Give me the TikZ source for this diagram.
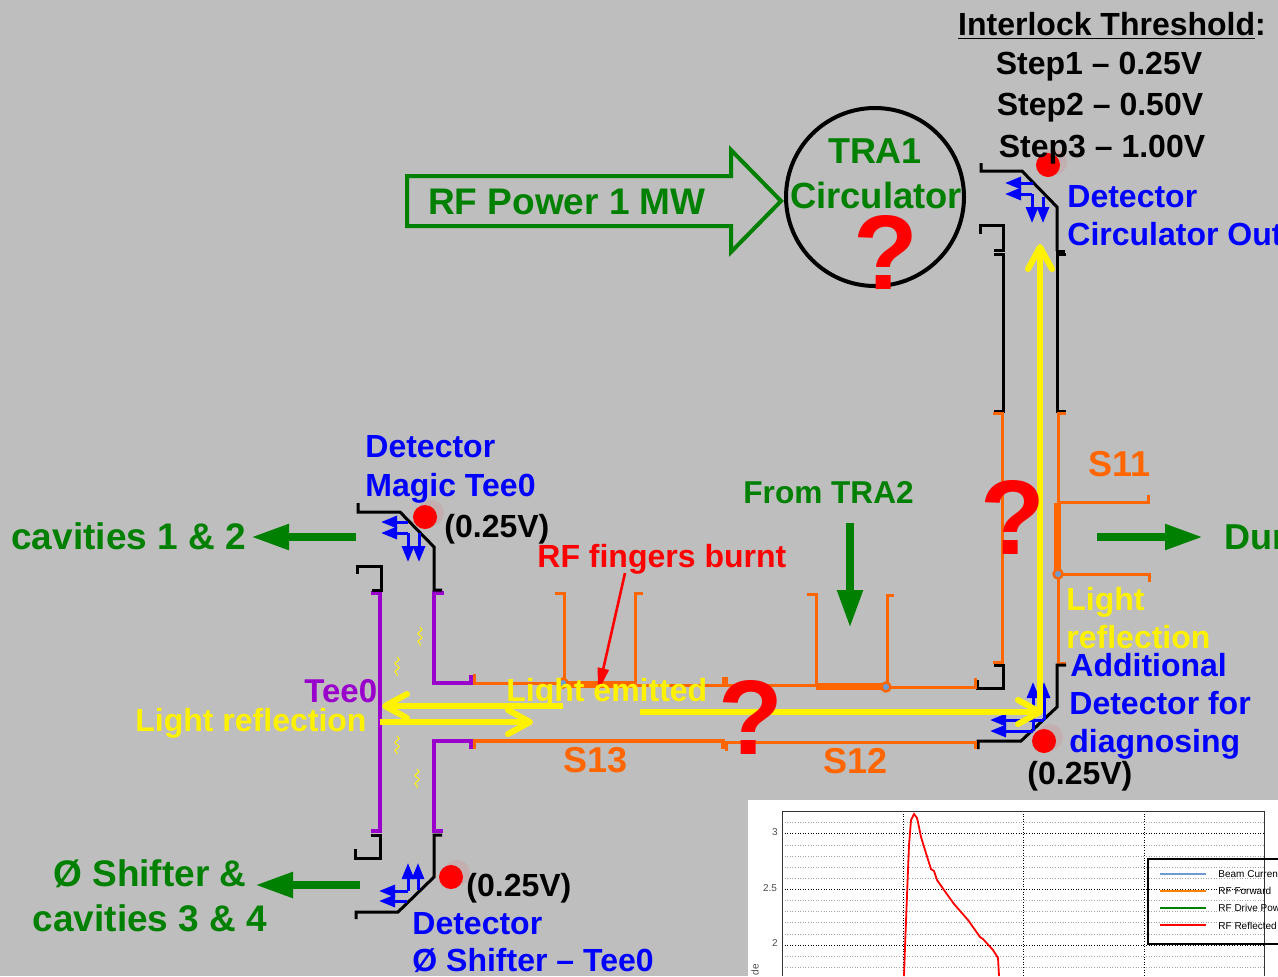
\documentclass[tikz,border=0pt]{standalone}
\usepackage{fontspec}
\setmainfont{Liberation Sans}
\usetikzlibrary{arrows.meta,decorations.pathmorphing}
\definecolor{bggrey}{HTML}{BEBEBE}
\definecolor{guideorange}{HTML}{FF6600}
\definecolor{teepurple}{HTML}{9900CC}
\definecolor{greenlabel}{HTML}{008000}
\definecolor{jointblue}{HTML}{6F9BD1}
\tikzset{
    txt/.style={inner sep=0pt, anchor=base west, font=\fontsize{#1}{#1}\selectfont\bfseries},
    midtxt/.style={inner sep=0pt, anchor=base, font=\fontsize{#1}{#1}\selectfont\bfseries},
    guide/.style={black, line width=1.5pt},
    section/.style={guideorange, line width=1.5pt},
    teeguide/.style={teepurple, line width=1.6pt},
    burnt/.style={guideorange, line width=3.5pt},
    joint/.style={circle, draw=guideorange, line width=1.2pt, fill=jointblue, inner sep=0pt, minimum size=4.5pt},
    bluearrow/.style={blue, line width=1.5pt, -{Triangle[length=8pt,width=6pt]}},
    greenarrow/.style={greenlabel, line width=4pt, -{Triangle[length=19pt,width=12pt]}},
    yellowarrow/.style={yellow, line width=3pt, -{Straight Barb[length=11pt,width=12pt,round]}},
    reddot/.style={circle, fill=red, inner sep=0pt, minimum size=12pt},
    halo/.style={circle, fill=red, fill opacity=0.08, inner sep=0pt, minimum size=13pt},
    squiggle/.style={yellow, line width=0.5pt, decorate, decoration={snake, amplitude=1pt, segment length=4pt}},
    gridline/.style={black!35, line width=0.3pt, densely dotted},
    majorgrid/.style={black, line width=0.3pt, densely dotted},
    ticklabel/.style={inner sep=0pt, text=black!70, font=\fontsize{5}{5}\selectfont}
}
\begin{document}
\begin{tikzpicture}[x=0.5pt,y=-0.5pt]
    \useasboundingbox (0,0) rectangle (1278,976);
    \clip (0,0) rectangle (1278,976);
    \fill[bggrey] (0,0) rectangle (1278,976);

    % Plot inset
    \fill[white] (748,800) rectangle (1278,976);
    \draw[gridline] (782,822) -- (1264,822);
    \draw[gridline] (782,845) -- (1264,845);
    \draw[gridline] (782,856) -- (1264,856);
    \draw[gridline] (782,867) -- (1264,867);
    \draw[gridline] (782,878) -- (1264,878);
    \draw[gridline] (782,900) -- (1264,900);
    \draw[gridline] (782,911) -- (1264,911);
    \draw[gridline] (782,922) -- (1264,922);
    \draw[gridline] (782,934) -- (1264,934);
    \draw[gridline] (782,956) -- (1264,956);
    \draw[gridline] (782,967) -- (1264,967);
    \draw[majorgrid] (782,833) -- (1264,833);
    \draw[majorgrid] (782,889) -- (1264,889);
    \draw[majorgrid] (782,945) -- (1264,945);
    \draw[majorgrid] (903,811) -- (903,976);
    \draw[majorgrid] (1023,811) -- (1023,976);
    \draw[majorgrid] (1144,811) -- (1144,976);
    \draw[black!80, line width=0.5pt] (782,976) -- (782,811) -- (1264,811) -- (1264,976);
    \draw[red, line width=0.9pt] (904,976) -- (905,947) -- (907,895) -- (909,845) -- (911,820) -- (914,814) -- (917,818) -- (919,827) -- (921,837) -- (925,850) -- (931,869) -- (934,871) -- (937,880) -- (944,890) -- (954,904) -- (968,920) -- (980,937) -- (983,939) -- (993,950) -- (998,958) -- (999,976);
    \node[ticklabel] (tick3) at (775,832) {3};
    \node[ticklabel] (tick25) at (770,888) {2.5};
    \node[ticklabel] (tick2) at (775,943) {2};
    \node[ticklabel, rotate=90, anchor=east] (ticky) at (755,964) {de};
    \draw[black, line width=0.6pt] (1300,859) -- (1148,859) -- (1148,944) -- (1300,944);
    \draw[jointblue, line width=0.7pt] (1160,874) -- (1206,874);
    \draw[orange, line width=0.7pt] (1160,891) -- (1206,891);
    \draw[green!50!black, line width=0.7pt] (1160,908) -- (1206,908);
    \draw[red, line width=0.7pt] (1160,925) -- (1206,925);
    \node[ticklabel, anchor=west, text=black] (leg1) at (1218,874) {Beam Curren};
    \node[ticklabel, anchor=west, text=black] (leg2) at (1218,891) {RF Forward};
    \node[ticklabel, anchor=west, text=black] (leg3) at (1218,908) {RF Drive Pow};
    \node[ticklabel, anchor=west, text=black] (leg4) at (1218,926) {RF Reflected};

    % Circulator
    \draw[black, line width=2pt] (875,197) circle (89);
    \draw[greenlabel, line width=2pt] (407,176) -- (731,176) -- (731,150) -- (781,201) -- (731,252) -- (731,226) -- (407,226) -- cycle;

    % Waveguides, top right
    \draw[guide] (981,163) -- (981,171) -- (1022,171) -- (1057,207) -- (1057,251);
    \draw[guide] (1056,251) -- (1065,251);
    \draw[guide] (980,234) -- (980,225) -- (1003,225) -- (1003,250) -- (994,250);
    \draw[guide] (994,254) -- (1003,254) -- (1003,411) -- (994,411);
    \draw[guide] (1066,254) -- (1057,254) -- (1057,411) -- (1066,411);

    % S11
    \draw[section] (993,413) -- (1002,413) -- (1002,662) -- (993,662);
    \draw[section] (1066,413) -- (1058,413) -- (1058,663) -- (1066,663);
    \draw[section] (1058,502) -- (1148,502) -- (1148,495);
    \draw[section] (1058,574) -- (1149,574) -- (1149,582);
    \draw[burnt] (1057,503) -- (1057,574);
    \node[joint] (jointa) at (1058,574) {};

    % Waveguides, bottom right
    \draw[guide] (994,665) -- (1003,665) -- (1003,688) -- (977,688) -- (977,680);
    \draw[guide] (1066,665) -- (1057,665) -- (1057,707) -- (1021,741) -- (978,741) -- (978,749);

    % S12
    \draw[section] (975,678) -- (975,687) -- (887,687);
    \draw[section] (816,685) -- (726,685) -- (726,677);
    \draw[section] (975,749) -- (975,742) -- (726,742) -- (726,751);
    \draw[section] (807,594) -- (816,594) -- (816,686);
    \draw[section] (894,595) -- (887,595) -- (887,687);
    \draw[burnt] (816,686) -- (886,686);
    \node[joint] (jointb) at (886,687) {};

    % S13
    \draw[section] (723,677) -- (723,685) -- (635,685);
    \draw[section] (563,683) -- (474,683) -- (474,674);
    \draw[section, line width=1.8pt] (723,749) -- (723,741) -- (474,741) -- (474,749);
    \draw[section] (555,593) -- (564,593) -- (564,683);
    \draw[section] (643,593) -- (635,593) -- (635,684);
    \draw[burnt] (564,684) -- (635,684);
    \node[joint] (jointc) at (563,683) {};

    % Tee0
    \draw[teeguide] (471,675) -- (471,683) -- (434,683) -- (434,593) -- (444,593);
    \draw[teeguide] (471,749) -- (471,741) -- (434,741) -- (434,831) -- (443,831);
    \draw[teeguide] (371,593) -- (380,593) -- (380,831) -- (371,831);

    % Waveguides, left
    \draw[guide] (442,590) -- (434,590) -- (434,547) -- (400,512) -- (358,512) -- (358,503);
    \draw[guide] (357,574) -- (357,566) -- (381,566) -- (381,590) -- (372,590);
    \draw[guide] (371,835) -- (380,835) -- (380,858) -- (355,858) -- (355,849);
    \draw[guide] (442,835) -- (434,835) -- (434,877) -- (398,912) -- (356,912) -- (356,919);

    % Detector arrows
    \draw[bluearrow] (1033,183) -- (1005,183);
    \draw[bluearrow] (1032,194) -- (1005,194);
    \draw[bluearrow] (1032,194) -- (1032,223);
    \draw[bluearrow] (1043,197) -- (1043,223);
    \draw[bluearrow] (1033,731) -- (990,731);
    \draw[bluearrow] (1044,720) -- (990,720);
    \draw[bluearrow] (1033,731) -- (1033,682);
    \draw[bluearrow] (1044,720) -- (1044,682);
    \draw[bluearrow] (408,522) -- (381,522);
    \draw[bluearrow] (408,533) -- (381,533);
    \draw[bluearrow] (408,533) -- (408,562);
    \draw[bluearrow] (419,533) -- (419,562);
    \draw[bluearrow] (408,891) -- (379,891);
    \draw[bluearrow] (407,901) -- (379,901);
    \draw[bluearrow] (408,891) -- (408,863);
    \draw[bluearrow] (418,890) -- (418,863);

    % Detector dots
    \node[halo] (haloa) at (1054,162) {};
    \node[reddot] (dota) at (1048,165) {};
    \node[halo] (halob) at (431,513) {};
    \node[reddot] (dotb) at (425,517) {};
    \node[halo] (haloc) at (1050,737) {};
    \node[reddot] (dotc) at (1044,741) {};
    \node[halo] (halod) at (457,873) {};
    \node[reddot] (dotd) at (451,877) {};

    % Yellow traces in the tee
    \draw[squiggle] (420,627) -- (420,646);
    \draw[squiggle] (397,657) -- (397,676);
    \draw[squiggle] (397,736) -- (397,754);
    \draw[squiggle] (417,769) -- (417,788);

    % Burnt fingers arrow
    \coordinate (burntfrom) at (625,573);
    \coordinate (burntto) at (598,692);
    \draw[red, line width=1.3pt, -{Triangle[length=12pt,width=5.5pt]}] (burntfrom) -- (burntto);

    % Green arrows
    \coordinate (cavfrom) at (356,537);
    \coordinate (cavto) at (251,537);
    \coordinate (shifterfrom) at (360,885);
    \coordinate (shifterto) at (255,885);
    \coordinate (dumpfrom) at (1097,537);
    \coordinate (dumpto) at (1203,537);
    \coordinate (trafrom) at (850,523);
    \coordinate (trato) at (850,628);
    \draw[greenarrow] (cavfrom) -- (cavto);
    \draw[greenarrow] (shifterfrom) -- (shifterto);
    \draw[greenarrow] (dumpfrom) -- (dumpto);
    \draw[greenarrow] (trafrom) -- (trato);

    % Labels
    \node[midtxt=16] (thresh) at (1112,35) {\underline{Interlock Threshold}:};
    \node[midtxt=16] (stepa) at (1099,74) {Step1 – 0.25V};
    \node[midtxt=16] (stepb) at (1100,115) {Step2 – 0.50V};
    \node[midtxt=16] (stepc) at (1102,157) {Step3 – 1.00V};
    \node[midtxt=18.5, text=greenlabel] (rfpower) at (567,214) {RF Power 1 MW};
    \node[midtxt=18, text=greenlabel] (tra) at (875,163) {TRA1};
    \node[midtxt=18.2, text=greenlabel] (circ) at (876,208) {Circulator};
    \node[txt=16, text=blue] (deta) at (1067,207) {Detector};
    \node[txt=16, text=blue] (detb) at (1067,245) {Circulator Out};
    \node[txt=16, text=blue] (detc) at (365,457) {Detector};
    \node[txt=16, text=blue] (detd) at (365,496) {Magic Tee0};
    \node[txt=16] (volta) at (444,537) {(0.25V)};
    \node[txt=18.5, text=greenlabel] (cava) at (11,549) {cavities 1 \& 2};
    \node[midtxt=18.5, text=greenlabel] (shift) at (150,886) {Ø Shifter \&};
    \node[midtxt=18.5, text=greenlabel] (cavb) at (150,931) {cavities 3 \& 4};
    \node[txt=16, text=red] (fingers) at (537,567) {RF fingers burnt};
    \node[txt=15.8, text=greenlabel] (fromtra) at (743,503) {From TRA2};
    \node[txt=16.5, text=teepurple] (tee) at (304,702) {Tee0};
    \node[txt=16, text=yellow] (lighta) at (135,731) {Light reflection};
    \node[txt=16, text=yellow] (lightb) at (506,701) {Light emitted};
    \node[txt=18, text=guideorange] (sa) at (563,772) {S13};
    \node[txt=18, text=guideorange] (sb) at (823,773) {S12};
    \node[txt=18, text=guideorange] (sc) at (1088,476) {S11};
    \node[txt=16, text=yellow] (lightc) at (1066,610) {Light};
    \node[txt=16, text=yellow] (lightd) at (1066,648) {reflection};
    \node[txt=16, text=blue] (adda) at (1070,676) {Additional};
    \node[txt=16, text=blue] (addb) at (1069,714) {Detector for};
    \node[txt=16, text=blue] (addc) at (1069,752) {diagnosing};
    \node[txt=16] (voltb) at (1027,784) {(0.25V)};
    \node[txt=16] (voltc) at (466,896) {(0.25V)};
    \node[txt=16, text=blue] (dete) at (412,934) {Detector};
    \node[txt=16, text=blue] (detf) at (412,971) {Ø Shifter – Tee0};
    \node[txt=18, text=greenlabel] (dump) at (1224,549) {Dum};

    % Yellow arrows
    \coordinate (lefta) at (563,706);
    \coordinate (leftb) at (382,706);
    \coordinate (righta) at (380,722);
    \coordinate (rightb) at (533,722);
    \coordinate (longa) at (640,712);
    \coordinate (longb) at (1043,712);
    \coordinate (upa) at (1040,712);
    \coordinate (upb) at (1040,244);
    \draw[yellowarrow] (lefta) -- (leftb);
    \draw[yellowarrow] (righta) -- (rightb);
    \draw[yellowarrow] (longa) -- (longb);
    \draw[yellowarrow] (upa) -- (upb);

    % Question marks
    \node[midtxt=53, text=red] (quesa) at (886,289) {?};
    \node[midtxt=53, text=red] (quesb) at (1013,554) {?};
    \node[midtxt=53, text=red] (quesc) at (751,754) {?};
\end{tikzpicture}
\end{document}
